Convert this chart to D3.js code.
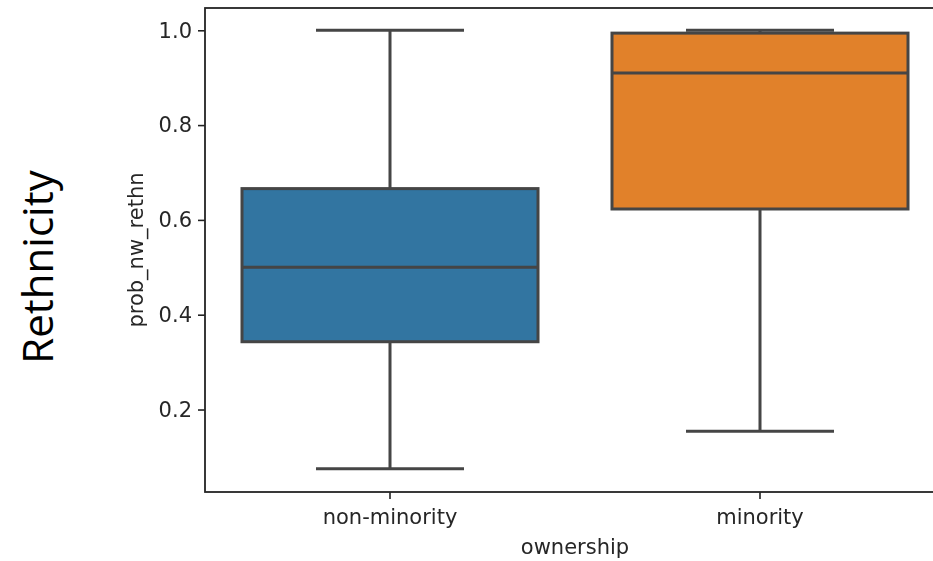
<!DOCTYPE html>
<html>
<head>
<meta charset="utf-8">
<script src="https://cdn.jsdelivr.net/npm/d3@7"></script>
<style>
  html, body { margin: 0; padding: 0; background: #fff; overflow: hidden; }
  svg { display: block; }
</style>
</head>
<body>
<svg id="chart" width="933" height="561"></svg>
<script>
// Ownership groups and their box-plot summaries of prob_nw_rethn
const categories = ["non-minority", "minority"];
const whiskerLow = [0.075, 0.154];
const q1Values = [0.343, 0.623];
const medianValues = [0.5, 0.91];
const q3Values = [0.666, 0.994];
const whiskerHigh = [1.0, 1.0];
const boxColors = ["#3274a1", "#e1812c"];
const yTicks = [0.2, 0.4, 0.6, 0.8, 1.0];
const yDomain = [0.026, 1.047];

const svg = d3.select("#chart");
const plot = { left: 205, right: 945, top: 8, bottom: 492 };
const lineColor = "#454545";
const font = "'DejaVu Sans', sans-serif";
const fontSize = "21px";

// soft edges of the enlarged figure
svg.append("defs").append("filter").attr("id", "soft")
  .append("feGaussianBlur").attr("stdDeviation", 0.55);

const chart = svg.append("g").attr("filter", "url(#soft)");

const x = d3.scaleBand()
  .domain(categories)
  .range([plot.left, plot.right])
  .paddingInner(0.2)
  .paddingOuter(0.1);

const y = d3.scaleLinear()
  .domain(yDomain)
  .range([plot.bottom, plot.top]);

const rows = categories.map((c, i) => ({
  cat: c, lo: whiskerLow[i], q1: q1Values[i], med: medianValues[i],
  q3: q3Values[i], hi: whiskerHigh[i], color: boxColors[i]
}));

// Boxes, whiskers and caps
const bw = x.bandwidth();
rows.forEach(d => {
  const cx = x(d.cat) + bw / 2;
  const grp = chart.append("g");
  grp.append("line")
    .attr("x1", cx).attr("x2", cx)
    .attr("y1", y(d.q1)).attr("y2", y(d.lo))
    .attr("stroke", lineColor).attr("stroke-width", 3);
  grp.append("line")
    .attr("x1", cx).attr("x2", cx)
    .attr("y1", y(d.q3)).attr("y2", y(d.hi))
    .attr("stroke", lineColor).attr("stroke-width", 3);
  [d.lo, d.hi].forEach(v => {
    grp.append("line")
      .attr("x1", cx - bw / 4).attr("x2", cx + bw / 4)
      .attr("y1", y(v)).attr("y2", y(v))
      .attr("stroke", lineColor).attr("stroke-width", 3);
  });
  grp.append("rect")
    .attr("x", x(d.cat)).attr("width", bw)
    .attr("y", y(d.q3)).attr("height", y(d.q1) - y(d.q3))
    .attr("fill", d.color)
    .attr("stroke", lineColor).attr("stroke-width", 3);
  grp.append("line")
    .attr("x1", x(d.cat)).attr("x2", x(d.cat) + bw)
    .attr("y1", y(d.med)).attr("y2", y(d.med))
    .attr("stroke", lineColor).attr("stroke-width", 3);
});

// Axes
const yAxis = d3.axisLeft(y).tickValues(yTicks).tickFormat(d3.format(".1f"))
  .tickSize(7).tickPadding(6);
const xAxis = d3.axisBottom(x).tickSize(7).tickPadding(10);

const gy = chart.append("g").attr("transform", `translate(${plot.left},0)`).call(yAxis);
const gx = chart.append("g").attr("transform", `translate(0,${plot.bottom})`).call(xAxis);
[gx, gy].forEach(a => {
  a.select(".domain").remove();
  a.selectAll(".tick line").attr("stroke", "#222").attr("stroke-width", 1.6);
  a.selectAll(".tick text").attr("fill", "#262626")
    .style("font-family", font).style("font-size", fontSize);
});

// Spines
chart.append("rect")
  .attr("x", plot.left).attr("y", plot.top)
  .attr("width", plot.right - plot.left).attr("height", plot.bottom - plot.top)
  .attr("fill", "none").attr("stroke", "#262626").attr("stroke-width", 1.8);

// Axis labels
chart.append("text")
  .attr("x", (plot.left + plot.right) / 2).attr("y", 554)
  .attr("text-anchor", "middle")
  .attr("fill", "#262626")
  .style("font-family", font).style("font-size", fontSize)
  .text("ownership");

chart.append("text")
  .attr("transform", `translate(143,${(plot.top + plot.bottom) / 2}) rotate(-90)`)
  .attr("text-anchor", "middle")
  .attr("fill", "#262626")
  .style("font-family", font).style("font-size", fontSize)
  .text("prob_nw_rethn");

// Side title
svg.append("text")
  .attr("transform", "translate(53,267) rotate(-90)")
  .attr("text-anchor", "middle")
  .attr("fill", "#000")
  .style("font-family", "'Open Sans', sans-serif").style("font-size", "42px")
  .text("Rethnicity");
</script>
</body>
</html>
